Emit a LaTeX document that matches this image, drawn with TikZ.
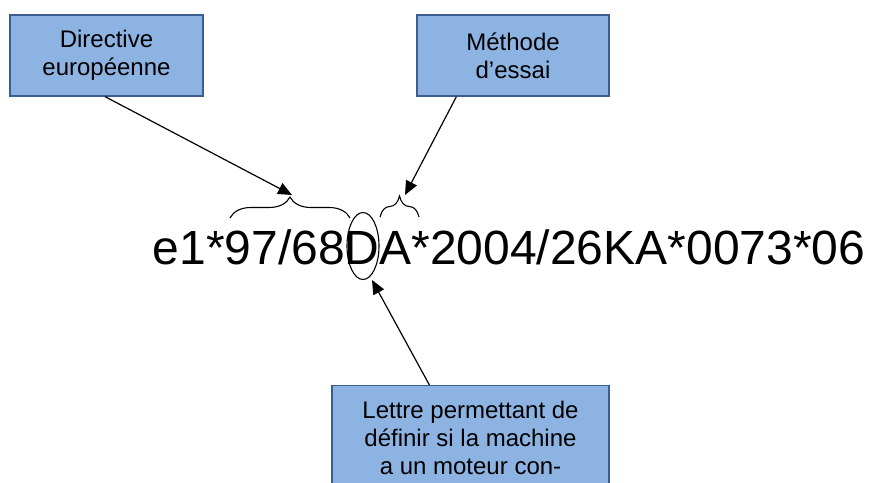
\documentclass[tikz,border=0pt]{standalone}
\usepackage{fontspec}
\setmainfont{Liberation Sans}
\usetikzlibrary{positioning,arrows.meta,decorations.pathreplacing,shapes.geometric}
\definecolor{boxfill}{HTML}{8DB3E2}
\definecolor{boxline}{HTML}{3B5E8C}

\begin{document}
\begin{tikzpicture}[x=1pt,y=-1pt]
  \tikzstyle{box}=[rectangle, draw=boxline, fill=boxfill, line width=1.2pt, align=center, font=\fontsize{24}{28}\selectfont]
  \tikzstyle{arrow}=[line width=1.2pt, -{Triangle[length=14pt,width=12pt]}]
  \tikzstyle{brace}=[line width=1.1pt, decorate, decoration={brace, amplitude=21pt}]
  \clip (0,0) rectangle (872,482);
  % code line
  \node (code) [anchor=base west, inner sep=0pt, font=\fontsize{48}{56}\selectfont] at (152.5,264) {e1*97/68DA*2004/26KA*0073*06};
  \node (dletter) [draw, ellipse, line width=1.1pt, minimum width=32pt, minimum height=67pt, inner sep=0pt] at (363,246) {};
  % top boxes
  \node (directive) [box, minimum width=193pt, minimum height=81pt] at (106.5,55.5) {Directive\\europ\'eenne};
  \node (essai) [box, minimum width=192pt, minimum height=81pt] at (513,55.5) {M\'ethode\\d’essai};
  % bottom box
  \node (lettre) [box, anchor=north, minimum width=277pt, inner ysep=15.5pt, text depth=35pt] at (470.5,385)
    {Lettre permettant de\\d\'efinir si la machine\\a un moteur con-};
  % braces
  \draw [brace] (230,218) -- (350,218);
  \draw [brace] (380,217) -- (419,217);
  % arrows
  \coordinate (dirtip) at (292,195);
  \coordinate (essaitip) at (405,195);
  \coordinate (lettretip) at (372,280);
  \draw [arrow] ([xshift=-1.5pt]directive.south) -- (dirtip);
  \draw [arrow] ([xshift=40pt]essai.south west) -- (essaitip);
  \draw [arrow] ([xshift=98pt]lettre.north west) -- (lettretip);
\end{tikzpicture}
\end{document}
